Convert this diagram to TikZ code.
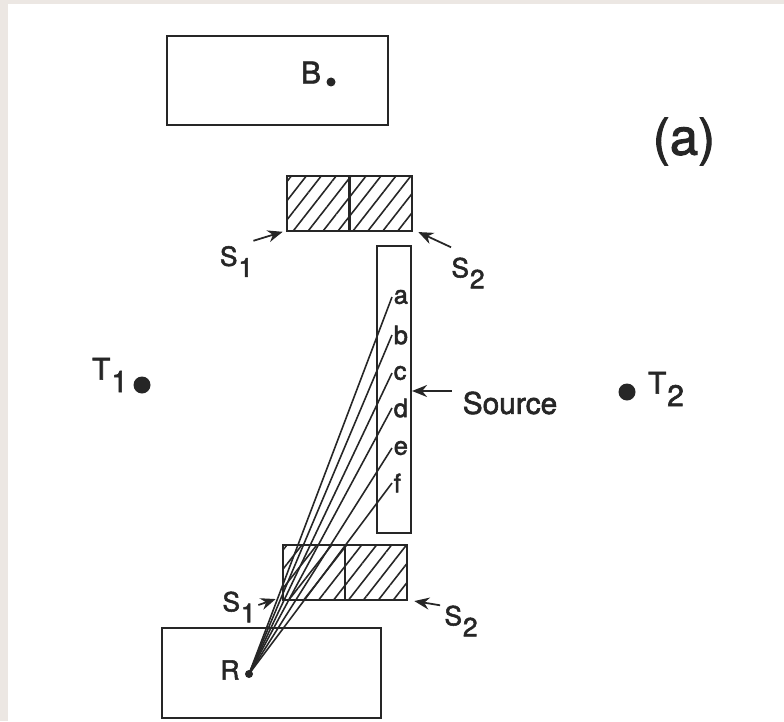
\documentclass[tikz,border=0pt]{standalone}
\usepackage{fontspec}
\setmainfont{TeX Gyre Heros}[FakeBold=2]
\usepackage{tikz}
\usetikzlibrary{arrows.meta,positioning,calc,patterns.meta}
\definecolor{ink}{RGB}{38,38,38}
\definecolor{paper}{RGB}{236,231,227}
\newcommand{\lowsub}[1]{\kern0.5pt\raisebox{-0.8ex}{#1}}
\tikzset{
  box/.style={draw=ink, line width=1.2pt, inner sep=0pt},
  shield/.style={box, minimum width=1.25cm, minimum height=1.10cm,
      pattern={Lines[angle=52, distance=6.7pt, line width=0.9pt]}, pattern color=ink},
  dotn/.style={circle, fill=ink, inner sep=0pt, minimum size=#1},
  lab/.style={font=\fontsize{15}{17}\selectfont, text=ink, inner sep=0pt},
  biglab/.style={font=\fontsize{17}{19}\selectfont, text=ink, inner sep=0pt},
  srclab/.style={font=\fontsize{14.5}{16}\selectfont, text=ink, inner sep=0.8pt, anchor=west},
  arr/.style={-{Stealth[length=3mm, width=2.4mm]}, ink, line width=1pt},
  ray/.style={ink, line width=0.9pt},
}

\begin{document}
\begin{tikzpicture}
  \useasboundingbox (0,0) rectangle (15.68,14.42);
  \fill[paper] (0,0) rectangle (15.68,14.42);
  \fill[white] (0.16,0) rectangle (15.68,14.34);
  % boxes
  \node[box, minimum width=4.42cm, minimum height=1.78cm] (bbox) at (5.55,12.81) {};
  \node[box, minimum width=4.38cm, minimum height=1.80cm] (rbox) at (5.43,0.96) {};
  \node[box, minimum width=0.68cm, minimum height=5.74cm] (col) at (7.88,6.63) {};
  % shields
  \node[shield] (shA) at (6.365,10.35) {};
  \node[shield] (shB) at (7.615,10.35) {};
  \node[shield] (shC) at (6.28,2.97) {};
  \node[shield] (shD) at (7.52,2.97) {};
  % points
  \node[dotn=0.18cm] (B) at (6.62,12.78) {};
  \node[biglab] (Blab) at (6.22,12.97) {B};
  \node[dotn=0.16cm] (R) at (4.98,0.94) {};
  \node[lab] (Rlab) at (4.60,1.02) {R};
  \node[dotn=0.34cm] (T1) at (2.84,6.72) {};
  \node[biglab] (T1lab) at (2.20,6.92) {T\lowsub{1}};
  \node[dotn=0.34cm] (T2) at (12.54,6.58) {};
  \node[biglab] (T2lab) at (13.32,6.64) {T\lowsub{2}};
  \node[font=\fontsize{29}{32}\selectfont, text=ink] (tag) at (13.68,11.59) {(a)};
  % shield labels
  \node[lab] (s1t) at (4.73,9.19) {S\lowsub{1}};
  \node[lab] (s2t) at (9.36,8.96) {S\lowsub{2}};
  \node[lab] (s1b) at (4.78,2.28) {S\lowsub{1}};
  \node[lab] (s2b) at (9.22,2.00) {S\lowsub{2}};
  \draw[arr] ([yshift=0.1cm]s1t.north east) -- ([xshift=-2pt]shA.south west);
  \draw[arr] ([yshift=0.2cm]s2t.north west) -- ([xshift=3pt]shB.south east);
  \draw[arr] ([shift={(0.05,0.04)}]s1b.east) -- ([shift={(-0.12,0.04)}]shC.south west);
  \draw[arr] ([xshift=-0.08cm]s2b.north west) -- ([xshift=0.12cm]shD.south east);
  % source
  \node[biglab] (src) at (10.20,6.36) {Source};
  \coordinate (srcTail) at ([shift={(-0.21,0.24)}]src.west);
  \draw[arr] (srcTail) -- (srcTail -| col.east);
  % rays
  \foreach \n/\y in {a/8.48,b/7.72,c/6.96,d/6.26,e/5.46,f/4.76} {
    \node[srclab] (l\n) at (7.84,\y) {\n};
    \draw[ray] (R.center) -- (l\n.west);
  }
\end{tikzpicture}
\end{document}
